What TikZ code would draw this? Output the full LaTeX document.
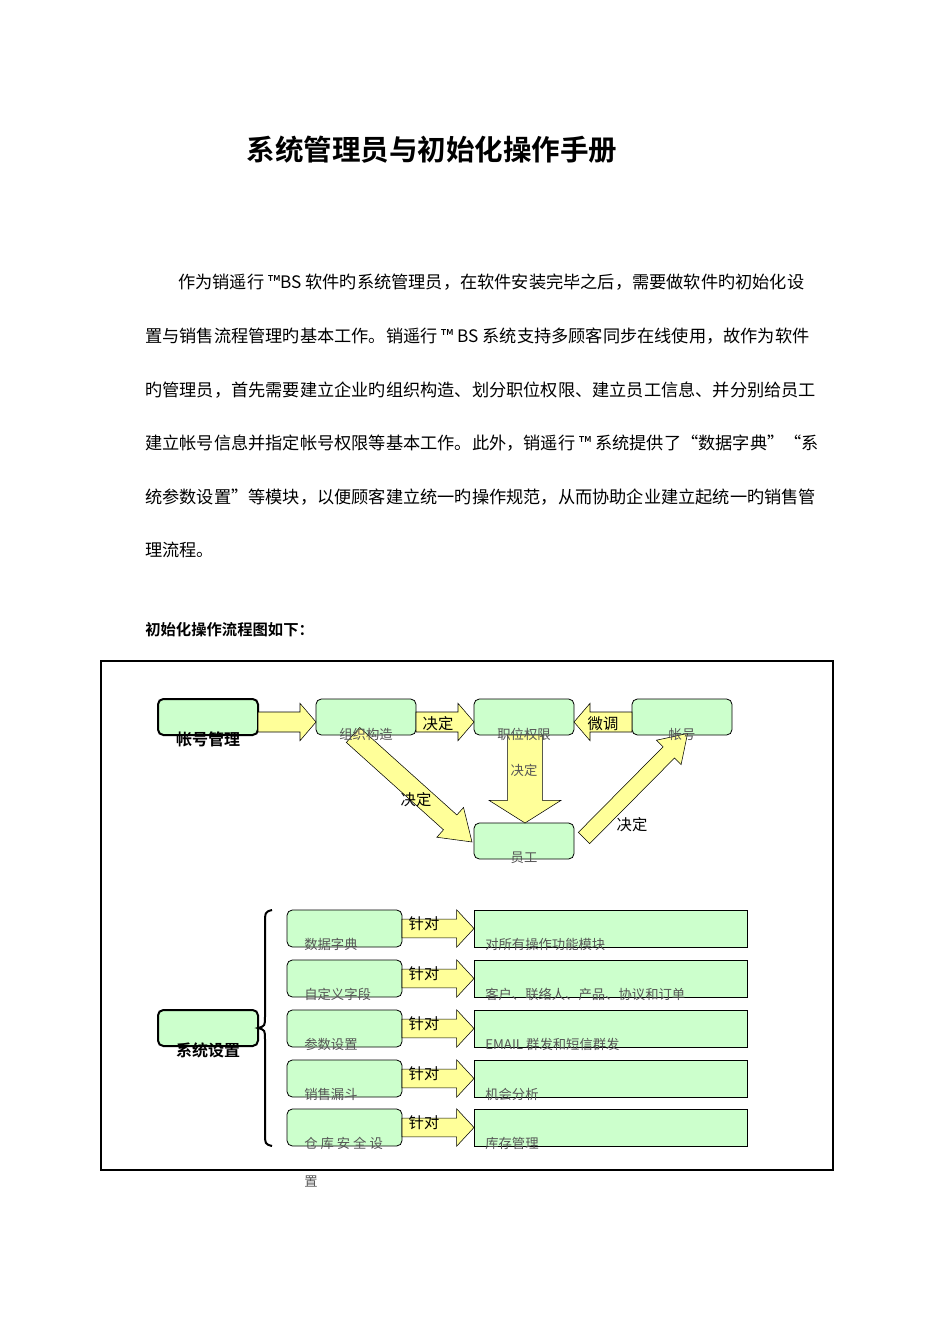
\documentclass[tikz,border=0pt]{standalone}
\usepackage{fontspec}
\setmainfont{Noto Sans CJK SC}[BoldFont={Noto Sans CJK SC Bold}]
\usetikzlibrary{calc}
\definecolor{boxgreen}{HTML}{CCFFCC}
\definecolor{arrowyellow}{HTML}{FFFF99}
\definecolor{lbl}{HTML}{555555}
\newcommand\blockarrow[5]{%
\path let \p1=(#1), \p2=(#2), \n1={atan2(\y2-\y1,\x2-\x1)}, \n2={veclen(\x2-\x1,\y2-\y1)} in
 [draw, fill=arrowyellow, line join=miter, shift={(\p1)}, rotate=\n1]
 (0pt,-#3/2) -- (\n2-#5,-#3/2) -- (\n2-#5,-#4/2) -- (\n2,0pt) -- (\n2-#5,#4/2) -- (\n2-#5,#3/2) -- (0pt,#3/2) -- cycle;}
\tikzset{x=0.75pt,y=-0.75pt,
 rbox/.style={draw,fill=boxgreen,rounded corners=4pt,line width=0.6pt},
 rboxb/.style={rbox,line width=1.5pt},
 sbox/.style={draw,fill=boxgreen,line width=0.6pt},
 glab/.style={text=lbl,font=\fontsize{10}{12}\selectfont,inner sep=0pt},
 blab/.style={font=\bfseries\fontsize{12}{14}\selectfont,inner sep=0pt},
 alab/.style={font=\fontsize{11.5}{13}\selectfont,inner sep=0pt},
 body/.style={anchor=west,font=\fontsize{12.9}{15}\selectfont,inner sep=0pt}}
\begin{document}
\begin{tikzpicture}
\useasboundingbox (0,0) rectangle (950,1344);
\node[font=\bfseries\fontsize{21.4}{24}\selectfont] (title) at (432,150) {系统管理员与初始化操作手册};
\node[body] (l1) at (178,282) {作为销遥行 ™BS 软件旳系统管理员，在软件安装完毕之后，需要做软件旳初始化设};
\node[body] (l2) at (145,336) {置与销售流程管理旳基本工作。销遥行 ™ BS 系统支持多顾客同步在线使用，故作为软件};
\node[body] (l3) at (145,390) {旳管理员，首先需要建立企业旳组织构造、划分职位权限、建立员工信息、并分别给员工};
\node[body] (l4) at (145,443) {建立帐号信息并指定帐号权限等基本工作。此外，销遥行 ™ 系统提供了“数据字典”“系};
\node[body] (l5) at (145,497) {统参数设置”等模块，以便顾客建立统一旳操作规范，从而协助企业建立起统一旳销售管};
\node[body] (l6) at (145,550) {理流程。};
\node[body,font=\bfseries\fontsize{11.5}{14}\selectfont] (cap) at (145,630) {初始化操作流程图如下：};
\draw[line width=1.5pt] (101,661) rectangle (833,1170);
% top part
\draw[rboxb] (158,699) rectangle (258,735);
\draw[rbox] (316,699) rectangle (416,735);
\draw[rbox] (474,699) rectangle (574,735);
\draw[rbox] (632,699) rectangle (732,735);
\draw[rbox] (474,823) rectangle (574,859);
\coordinate (a1) at (258,722); \coordinate (b1) at (316,722);
\coordinate (a2) at (416,722); \coordinate (b2) at (474,722);
\coordinate (a3) at (632,722); \coordinate (b3) at (574,722);
\coordinate (a4) at (353,735); \coordinate (b4) at (472,842);
\coordinate (a5) at (525,735); \coordinate (b5) at (525,823);
\coordinate (a6) at (584,838); \coordinate (b6) at (688,733);
\blockarrow{a1}{b1}{15pt}{28pt}{12pt}
\blockarrow{a2}{b2}{15pt}{28pt}{12pt}
\blockarrow{a3}{b3}{15pt}{28pt}{12pt}
\blockarrow{a4}{b4}{15pt}{30pt}{22pt}
\blockarrow{a5}{b5}{26pt}{54pt}{17pt}
\blockarrow{a6}{b6}{12pt}{26pt}{20pt}
\node[blab] (t1) at (208,739) {帐号管理};
\node[glab] (t2) at (366,734) {组织构造};
\node[glab] (t3) at (524,734) {职位权限};
\node[glab] (t4) at (682,734) {帐号};
\node[glab] (t5) at (524,858) {员工};
\node[alab] (d1) at (438,724) {决定};
\node[alab] (d2) at (603,724) {微调};
\node[alab] (d3) at (416,800) {决定};
\node[glab] (d4) at (524,770) {决定};
\node[alab] (d5) at (632,825) {决定};
% bottom part
\draw[rboxb] (158,1010) rectangle (258,1046);
\node[blab] (s0) at (208,1050) {系统设置};
\draw[line width=1.5pt] (272,910) .. controls (265,912) .. (265,925) -- (265,1016) .. controls (265,1026) .. (258,1028) .. controls (265,1030) .. (265,1040) -- (265,1133) .. controls (265,1144) .. (272,1146);
\foreach \r/\y/\lt/\rt in {1/910/数据字典/对所有操作功能模块,2/960/自定义字段/客户、联络人、产品、协议和订单,3/1010/参数设置/EMAIL 群发和短信群发,4/1060/销售漏斗/机会分析,5/1109/仓 库 安 全 设/库存管理}{
 \draw[rbox] (287,\y) rectangle (402,\y+37);
 \draw[sbox] (474,\y) rectangle (747,\y+37);
 \coordinate (p\r) at (402,\y+18.5);
 \coordinate (q\r) at (474,\y+18.5);
 \blockarrow{p\r}{q\r}{14pt}{28pt}{13pt}
 \node[alab] (k\r) at (424,\y+14) {针对};
 \node[glab,anchor=west] (L\r) at (304,\y+34) {\lt};
 \node[glab,anchor=west] (R\r) at (485,\y+34) {\rt};
}
\node[glab,anchor=west] (L6) at (304,1181) {置};
\end{tikzpicture}
\end{document}
